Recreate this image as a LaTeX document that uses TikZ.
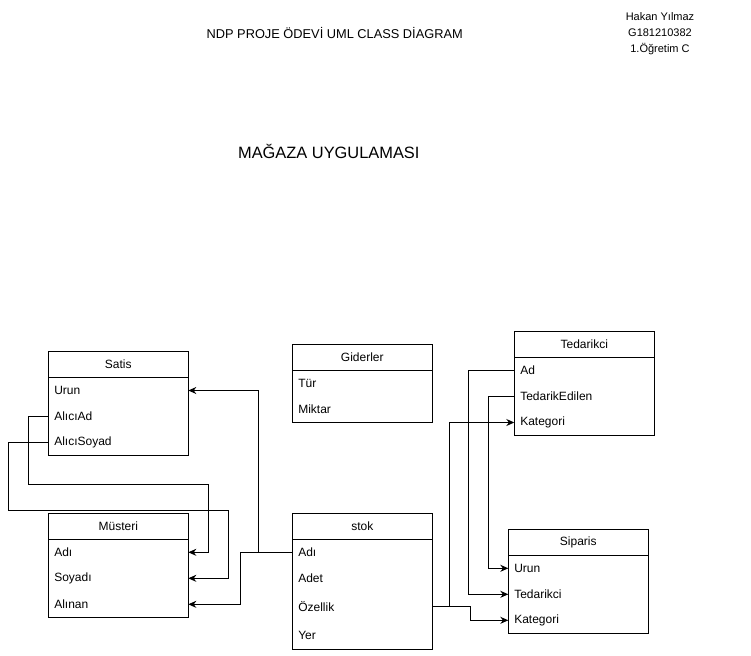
\documentclass[tikz,border=0pt]{standalone}
\usepackage{fontspec}
\setmainfont{Liberation Sans}
\usetikzlibrary{positioning,arrows.meta}

\tikzset{
  cls/.style={draw, line width=1pt, minimum width=140pt, minimum height=26pt, inner sep=0pt, outer sep=0pt, font=\fontsize{12}{14}\selectfont},
  attr/.style={minimum height=26pt, text width=128pt, inner xsep=6pt, inner ysep=0pt, outer sep=0pt, align=left, font=\fontsize{12}{14}\selectfont},
  box/.style={line width=1pt},
  link/.style={line width=1pt, -{Stealth[length=8pt,width=7pt]}},
}

\begin{document}
\begin{tikzpicture}
[x=1pt, y=-1pt, node distance = 0 pt]

\useasboundingbox (0,0) rectangle (751,655);

\node (title) at(334.7,33.3) {\fontsize{12.8}{15}\selectfont NDP PROJE ÖDEVİ UML CLASS DİAGRAM};
\node[align=center, font=\fontsize{11}{16}\selectfont] (author) at(660,33.3) {Hakan Yılmaz\\G181210382\\1.Öğretim C};
\node (app) at(328.8,151.7) {\fontsize{16.4}{19}\selectfont MAĞAZA UYGULAMASI};


\node[cls, anchor=north west] (satis) at(48.3,351.5) {Satis};
\node[attr, below =of satis] (satis-urun) {Urun};
\node[attr, below =of satis-urun] (satis-ad) {AlıcıAd};
\node[attr, below =of satis-ad] (satis-soyad) {AlıcıSoyad};
\draw[box] (satis.south west) rectangle (satis-soyad.south east);


\node[cls, anchor=north west] (musteri) at(48.3,513.3) {Müsteri};
\node[attr, below =of musteri] (musteri-adi) {Adı};
\node[attr, below =of musteri-adi] (musteri-soyadi) {Soyadı};
\node[attr, below =of musteri-soyadi] (musteri-alinan) {Alınan};
\draw[box] (musteri.south west) rectangle (musteri-alinan.south east);


\node[cls, anchor=north west] (giderler) at(292.3,344) {Giderler};
\node[attr, below =of giderler] (giderler-tur) {Tür};
\node[attr, below =of giderler-tur] (giderler-miktar) {Miktar};
\draw[box] (giderler.south west) rectangle (giderler-miktar.south east);


\node[cls, anchor=north west] (stok) at(292.3,513.3) {stok};
\node[attr, below =of stok] (stok-adi) {Adı};
\node[attr, below =of stok-adi] (stok-adet) {Adet};
\node[attr, minimum height=30pt, below =of stok-adet] (stok-ozellik) {Özellik};
\node[attr, minimum height=28pt, below =of stok-ozellik] (stok-yer) {Yer};
\draw[box] (stok.south west) rectangle (stok-yer.south east);


\node[cls, anchor=north west] (ted) at(514.3,331.5) {Tedarikci};
\node[attr, below =of ted] (ted-ad) {Ad};
\node[attr, below =of ted-ad] (ted-edilen) {TedarikEdilen};
\node[attr, below =of ted-edilen] (ted-kategori) {Kategori};
\draw[box] (ted.south west) rectangle (ted-kategori.south east);


\node[cls, anchor=north west] (sip) at(508.3,529.3) {Siparis};
\node[attr, below =of sip] (sip-urun) {Urun};
\node[attr, below =of sip-urun] (sip-tedarikci) {Tedarikci};
\node[attr, below =of sip-tedarikci] (sip-kategori) {Kategori};
\draw[box] (sip.south west) rectangle (sip-kategori.south east);


%left side
\draw[link] (satis-ad.west) -| (28.3,484.3) -| ([xshift=20pt]musteri-adi.east) -- (musteri-adi.east);
\draw[link] (satis-soyad.west) -| (8.3,510.3) -| ([xshift=40pt]musteri-soyadi.east) -- (musteri-soyadi.east);
\draw[link] (stok-adi.west) -| ([xshift=70pt]satis-urun.east) -- (satis-urun.east);
\draw[link] (stok-adi.west) -| ([xshift=52.4pt]musteri-alinan.east) -- (musteri-alinan.east);

%right side
\draw[link] (stok-ozellik.east) -| ([xshift=-65.3pt]ted-kategori.west) -- (ted-kategori.west);
\draw[link] (stok-ozellik.east) -| ([xshift=-37.6pt]sip-kategori.west) -- (sip-kategori.west);
\draw[link] (ted-ad.west) -| ([xshift=-40pt]sip-tedarikci.west) -- (sip-tedarikci.west);
\draw[link] (ted-edilen.west) -| ([xshift=-20pt]sip-urun.west) -- (sip-urun.west);

\end{tikzpicture}
\end{document}
